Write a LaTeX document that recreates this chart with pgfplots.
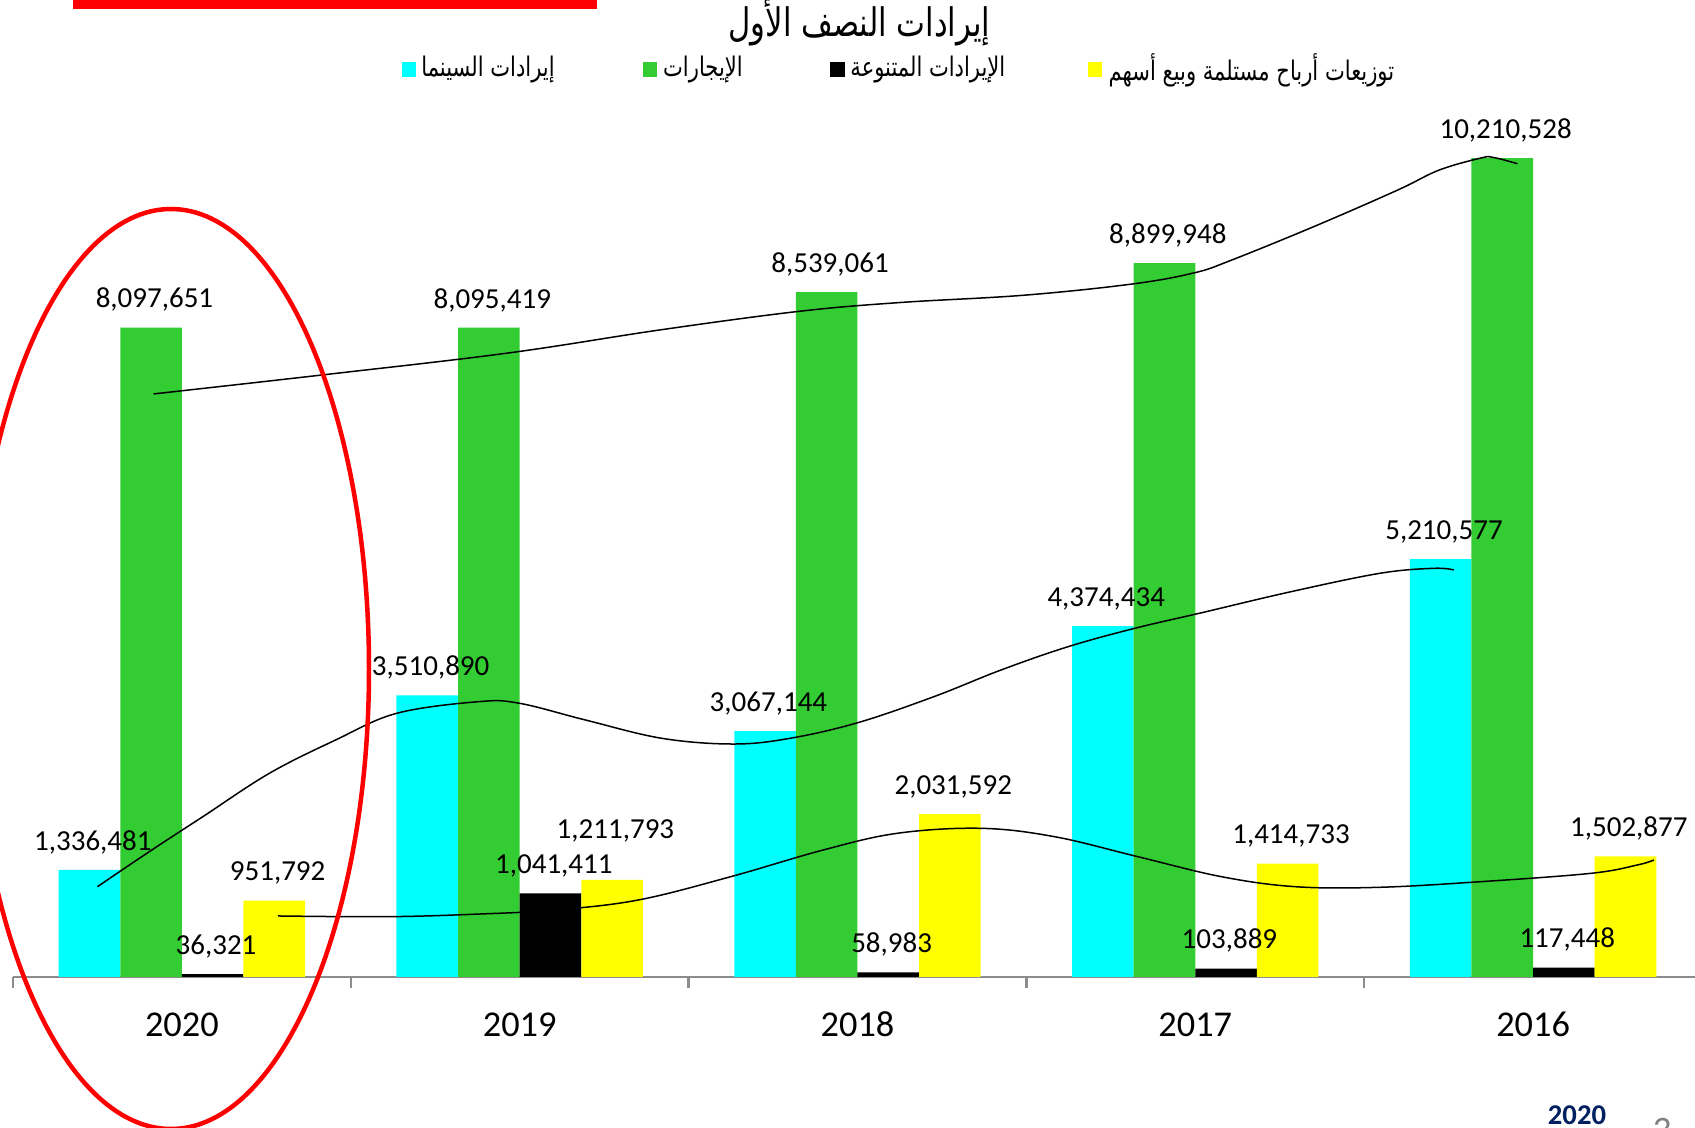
\documentclass[border=0pt]{standalone}
\usepackage{fontspec}
\setmainfont{Carlito}
\newfontfamily\arabicfont[Script=Arabic,FakeStretch=0.78]{DejaVu Sans}
\TeXXeTstate=1
\usepackage{pgfplots}
\usepackage{pgfplotstable}
\pgfplotsset{compat=1.18}
\definecolor{cinema}{RGB}{0,255,255}
\definecolor{rent}{RGB}{51,204,51}
\definecolor{divid}{RGB}{255,255,0}
\definecolor{navy}{RGB}{0,32,96}
\definecolor{axgray}{RGB}{140,140,140}

\pgfplotstableread{
x y l
0 1336481 1,336,481
1 3510890 3,510,890
2 3067144 3,067,144
3 4374434 4,374,434
4 5210577 5,210,577
}\cinemadata
\pgfplotstableread{
x y l
0 8097651 8,097,651
1 8095419 8,095,419
2 8539061 8,539,061
3 8899948 8,899,948
4 10210528 10,210,528
}\rentdata
\pgfplotstableread{
x y l
0 36321 36,321
1 1041411 1,041,411
2 58983 58,983
3 103889 103,889
4 117448 117,448
}\miscdata
\pgfplotstableread{
x y l dy
0 951792 951,792 0
1 1211793 1,211,793 6.5
2 2031592 2,031,592 0
3 1414733 1,414,733 0
4 1502877 1,502,877 0
}\dividdata

\pgfplotsset{
  lbl/.style={nodes near coords={\pgfplotspointmeta}, point meta=explicit symbolic,
    every node near coord/.append style={font=\fontsize{8.7}{10}\selectfont, text=black,
      inner sep=0pt, outer sep=0pt, text depth=0pt, yshift=5.9pt, xshift=1pt}},
  mybar/.style={ybar, bar width=18.48pt, draw=none, bar shift=#1,
    every node near coord/.append style={xshift=#1}},
}

\begin{document}
\begin{tikzpicture}[x=0.3pt,y=0.3pt]
\useasboundingbox (0,0) rectangle (1695,1128);
\begin{scope}
\clip (0,0) rectangle (1695,1128);
\begin{axis}[
  at={(3.9pt,45.3pt)}, anchor=south west,
  scale only axis, width=506.7pt, height=293.1pt,
  xmin=-0.5, xmax=4.5, ymin=0, ymax=12182000,
  axis y line=none, axis x line*=bottom,
  axis line style={draw=axgray, line width=0.7pt},
  xtick={-0.5,0.5,1.5,2.5,3.5,4.5},
  x tick label as interval,
  xticklabels={2020,2019,2018,2017,2016},
  xtick style={draw=axgray, line width=0.7pt},
  tick align=outside, major tick length=3.3pt,
  xticklabel style={font=\fontsize{10.9}{13}\selectfont, anchor=base, yshift=-14.7pt},
  ytick=\empty,
  clip=false,
]
\addplot[mybar=-27.72pt, fill=cinema, lbl] table[x=x,y=y,meta=l]{\cinemadata};
\addplot[mybar=-9.24pt, fill=rent, lbl] table[x=x,y=y,meta=l]{\rentdata};
\addplot[mybar=9.24pt, fill=black, lbl] table[x=x,y=y,meta=l]{\miscdata};
\addplot[mybar=27.72pt, fill=divid, lbl,
  visualization depends on={\thisrow{dy}\as\dyv},
  every node near coord/.append style={yshift=\dyv pt}] table[x=x,y=y,meta=l]{\dividdata};
% trend curves
\addplot[black, line width=0.45pt, smooth, tension=0.6, forget plot] coordinates {
(-0.084,7270000) (0.422,7510000) (0.965,7780000) (1.418,8070000) (1.827,8300000)
(2.126,8410000) (2.49,8500000) (2.812,8640000) (2.997,8780000) (3.108,8940000)
(3.353,9360000) (3.598,9810000) (3.721,10060000) (3.844,10210000) (3.881,10220000) (3.954,10140000)};
\addplot[black, line width=0.45pt, smooth, tension=0.6, forget plot] coordinates {
(-0.250,1126000) (-0.089,1584000) (0.062,1999000) (0.259,2540000) (0.455,2955000)
(0.636,3288000) (0.878,3433000) (0.999,3413000) (1.195,3204000) (1.421,2976000)
(1.633,2905000) (1.800,2976000) (2.001,3171000) (2.226,3495000) (2.425,3828000)
(2.623,4118000) (2.821,4348000) (3.019,4542000) (3.283,4804000) (3.547,5034000)
(3.706,5096000) (3.765,5075000)};
\addplot[black, line width=0.45pt, smooth, tension=0.6, forget plot] coordinates {
(0.284,761000) (0.612,752000) (0.886,786000) (1.105,835000) (1.351,960000)
(1.625,1251000) (1.899,1584000) (2.118,1792000) (2.365,1854000) (2.584,1749000)
(2.830,1500000) (3.077,1251000) (3.296,1126000) (3.542,1118000) (3.843,1188000)
(4.172,1293000) (4.309,1397000) (4.358,1459000)};
\end{axis}
\draw[red, line width=1.35pt] (171,459) ellipse [x radius=198, y radius=460];
\fill[red] (73,1119) rectangle (597,1128);
\node[font=\arabicfont\fontsize{11.8}{14}\selectfont, inner sep=0pt] at (859.5,1105) {\beginR إيرادات النصف الأول\endR};
% legend
\fill[cinema] (401.7,1051) rectangle (416,1065.5);
\node[font=\arabicfont\fontsize{8.1}{10}\selectfont, inner sep=0pt, anchor=west] at (420.7,1058) {\beginR إيرادات السينما\endR};
\fill[rent] (642.8,1051) rectangle (657.3,1065.5);
\node[font=\arabicfont\fontsize{8.1}{10}\selectfont, inner sep=0pt, anchor=west] at (662.5,1058) {\beginR الإيجارات\endR};
\fill[black] (830,1051) rectangle (844.5,1065.5);
\node[font=\arabicfont\fontsize{8.1}{10}\selectfont, inner sep=0pt, anchor=west] at (849.8,1058) {\beginR الإيرادات المتنوعة\endR};
\fill[divid] (1087.6,1051) rectangle (1102,1065.5);
\node[font=\arabicfont\fontsize{8.1}{10}\selectfont, inner sep=0pt, anchor=west] at (1108,1058) {\beginR توزيعات أرباح مستلمة وبيع أسهم\endR};
% footer
\node[font=\bfseries\fontsize{8.6}{10}\selectfont, text=navy, anchor=base, inner sep=0pt] at (1577,3) {2020};
\node[font=\fontsize{11.2}{13}\selectfont, text=gray, anchor=north, inner sep=0pt] at (1662,10) {3};
\end{scope}
\end{tikzpicture}
\end{document}
